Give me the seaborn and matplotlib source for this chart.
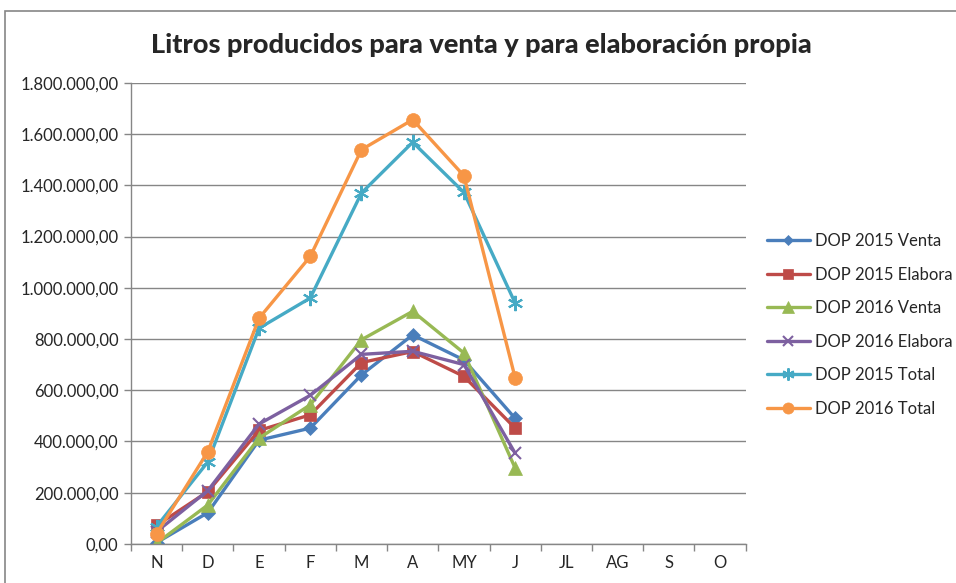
import matplotlib
matplotlib.use("Agg")
import matplotlib.pyplot as plt
from matplotlib.patches import Rectangle
from matplotlib.ticker import FixedLocator, FuncFormatter
import seaborn as sns
import pandas as pd

meses = ["N", "D", "E", "F", "M", "A", "MY", "J", "JL", "AG", "S", "O"]

venta_2015 = [5000, 122000, 405000, 452000, 660000, 816000, 718000, 490000]
elabora_2015 = [72000, 204000, 443000, 504000, 708000, 751000, 654000, 452000]
venta_2016 = [3000, 152000, 413000, 543000, 797000, 908000, 745000, 296000]
elabora_2016 = [48000, 208000, 468000, 580000, 740000, 752000, 700000, 354000]
total_2015 = [68000, 320000, 842000, 960000, 1370000, 1568000, 1372000, 940000]
total_2016 = [40000, 360000, 881000, 1122000, 1539000, 1656000, 1437000, 648000]

series = {
    "DOP 2015 Venta": venta_2015,
    "DOP 2015 Elabora": elabora_2015,
    "DOP 2016 Venta": venta_2016,
    "DOP 2016 Elabora": elabora_2016,
    "DOP 2015 Total": total_2015,
    "DOP 2016 Total": total_2016,
}
colores = ["#4A7EBB", "#BE4B48", "#98B954", "#7D60A0", "#46AAC5", "#F79646"]
marcadores = ["D", "s", "^", "x", (6, 2, 0), "o"]
tamanos = [7, 9, 10, 9, 11, 10]

rows = []
for nombre, vals in series.items():
    for i, v in enumerate(vals):
        rows.append({"serie": nombre, "pos": i, "litros": v})
df = pd.DataFrame(rows)

sns.set_style("white")
plt.rcParams["font.family"] = ["Lato", "DejaVu Sans"]

fig = plt.figure(figsize=(9.56, 5.83), dpi=100)
ax = fig.add_axes([0.137, 0.067, 0.643, 0.791])

for (nombre, _), c, m, ms in zip(series.items(), colores, marcadores, tamanos):
    sub = df[df["serie"] == nombre]
    sns.lineplot(data=sub, x="pos", y="litros", ax=ax, color=c, linewidth=2.4,
                 marker=m, markersize=ms, markeredgecolor=c,
                 markeredgewidth=1.5 if m in ("x", (6, 2, 0)) else 0.5,
                 label=nombre)

ax.set_xlim(-0.5, len(meses) - 0.5)
ax.set_ylim(0, 1800000)
ax.set_xticks(range(len(meses)))
ax.set_xticklabels(meses, fontsize=12)
ax.xaxis.set_minor_locator(FixedLocator([i - 0.5 for i in range(len(meses) + 1)]))
ax.set_yticks(range(0, 1800001, 200000))
ax.yaxis.set_major_formatter(FuncFormatter(
    lambda v, p: f"{v:,.2f}".replace(",", "X").replace(".", ",").replace("X", ".")))
ax.tick_params(axis="y", labelsize=12, length=5, color="#868686", width=1, direction="out", left=True, pad=4)
ax.tick_params(axis="x", which="major", length=0, pad=8)
ax.tick_params(axis="x", which="minor", length=5, color="#868686", width=1, direction="out", bottom=True)
ax.grid(axis="y", color="#868686", linewidth=1)
ax.set_axisbelow(True)
for s in ["top", "right"]:
    ax.spines[s].set_visible(False)
for s in ["left", "bottom"]:
    ax.spines[s].set_color("#868686")
    ax.spines[s].set_linewidth(1)
ax.set_xlabel("")
ax.set_ylabel("")

ax.legend(loc="center left", bbox_to_anchor=(1.01, 0.475), frameon=False, fontsize=12,
          handlelength=2.6, labelspacing=1.05, handletextpad=0.3, markerscale=0.8)

fig.text(0.504, 0.922, "Litros producidos para venta y para elaboración propia",
         ha="center", va="center", fontsize=19.5, fontweight="black")

fig.patches.append(Rectangle((0.005, -0.1), 1.2, 1.081, transform=fig.transFigure,
                             fill=False, edgecolor="#868686", linewidth=1.2))

fig.savefig("out.png", dpi=100)
